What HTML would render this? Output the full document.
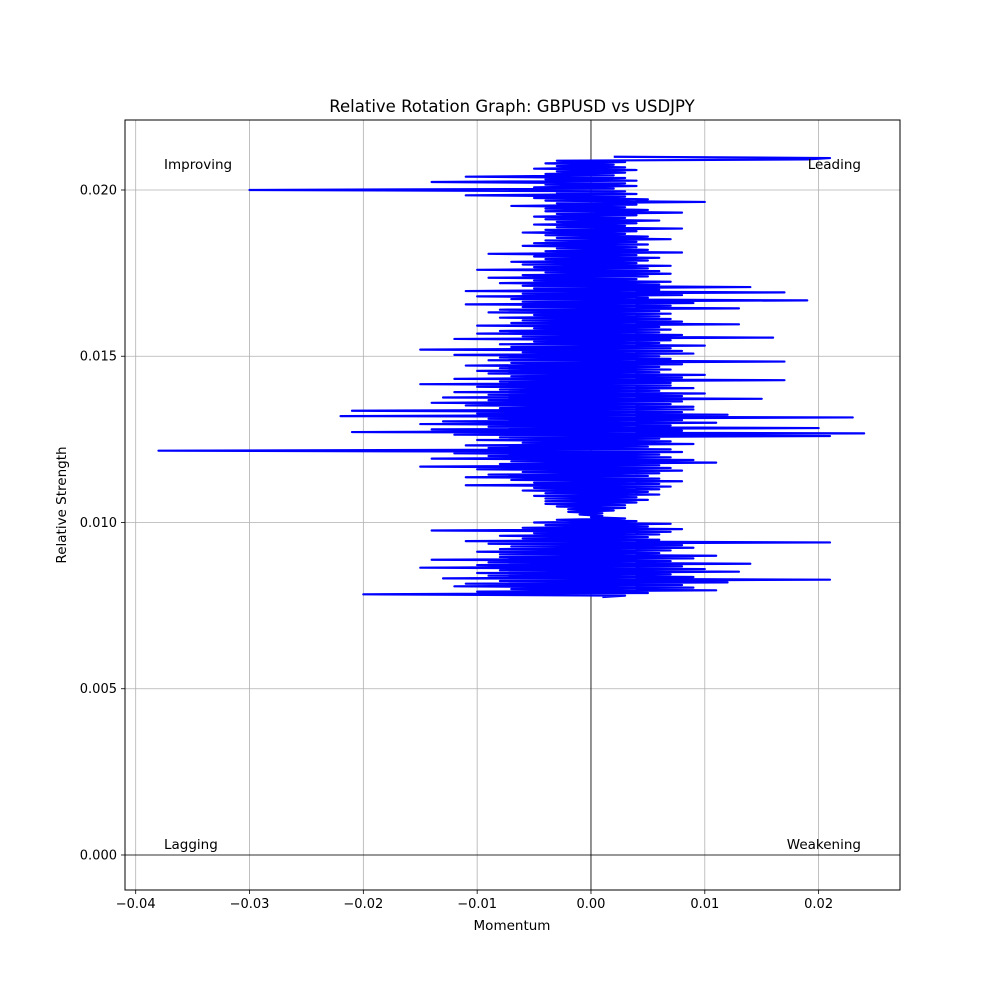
<!DOCTYPE html>
<html><head><meta charset="utf-8"><style>
body{margin:0;background:#fff}
svg{font-family:"DejaVu Sans","Liberation Sans",sans-serif}
</style></head><body>
<svg id="chart" width="1000" height="1000" viewBox="0 0 1000 1000">
<rect width="1000" height="1000" fill="#fff"/>
<g id="grid"></g>
<g id="series"></g>
<rect x="125" y="120" width="775" height="770" fill="none" stroke="#000" stroke-width="1"/>
<g id="ticks"></g>
<text x="512" y="112" font-size="16.5" text-anchor="middle">Relative Rotation Graph: GBPUSD vs USDJPY</text>
<text x="512" y="930" font-size="13.5" text-anchor="middle">Momentum</text>
<text x="66" y="505" font-size="13.5" text-anchor="middle" transform="rotate(-90 66 505)">Relative Strength</text>
<text x="164" y="169" font-size="13.5">Improving</text>
<text x="861" y="169" font-size="13.5" text-anchor="end">Leading</text>
<text x="164" y="849" font-size="13.5">Lagging</text>
<text x="861" y="849" font-size="13.5" text-anchor="end">Weakening</text>
</svg>
<script>
const xTicks=[-0.04,-0.03,-0.02,-0.01,0.0,0.01,0.02];
const xTickLabels=["−0.04","−0.03","−0.02","−0.01","0.00","0.01","0.02"];
const yTicks=[0.0,0.005,0.01,0.015,0.02];
const yTickLabels=["0.000","0.005","0.010","0.015","0.020"];
const momentum=[
0.002,0.021,0.019,-0.003,0.003,-0.004,0.002,-0.003,0.003,-0.005,0.004,-0.003,0.003,-0.004,0.002,-0.011,0.003,-0.004,0.004,-0.014,
0.003,-0.004,0.004,-0.005,0.002,-0.030,0.003,-0.003,0.004,-0.011,0.003,-0.005,0.005,-0.004,0.010,-0.003,0.004,-0.007,0.003,-0.004,
0.005,-0.004,0.008,-0.003,0.004,-0.005,0.003,-0.004,0.006,-0.003,0.004,-0.005,0.003,-0.003,0.008,-0.004,0.004,-0.006,0.003,-0.004,
0.005,-0.003,0.007,-0.004,0.004,-0.005,0.005,-0.006,0.004,-0.003,0.005,-0.004,0.008,-0.009,0.004,-0.005,0.006,-0.004,0.005,-0.007,
0.004,-0.006,0.007,-0.005,0.005,-0.010,0.006,-0.004,0.007,-0.006,0.005,-0.009,0.004,-0.005,0.007,-0.008,0.006,-0.006,0.014,-0.005,
0.006,-0.011,0.017,-0.006,0.008,-0.010,0.005,-0.007,0.019,-0.006,0.009,-0.011,0.007,-0.006,0.013,-0.008,0.006,-0.009,0.007,-0.005,
0.006,-0.008,0.007,-0.006,0.008,-0.007,0.013,-0.010,0.006,-0.005,0.007,-0.008,0.006,-0.010,0.008,-0.006,0.016,-0.012,0.007,-0.005,
0.006,-0.008,0.010,-0.007,0.007,-0.015,0.008,-0.006,0.009,-0.012,0.006,-0.008,0.007,-0.009,0.017,-0.007,0.008,-0.011,0.006,-0.008,
0.007,-0.010,0.006,-0.009,0.010,-0.007,0.008,-0.012,0.017,-0.008,0.007,-0.015,0.007,-0.010,0.009,-0.008,0.006,-0.012,0.010,-0.009,
0.008,-0.013,0.015,-0.009,0.008,-0.014,0.007,-0.011,0.009,-0.008,0.009,-0.021,0.008,-0.010,0.012,-0.022,0.023,-0.009,0.008,-0.013,
0.011,-0.015,0.007,-0.009,0.020,-0.014,0.008,-0.021,0.024,-0.012,0.021,-0.008,0.006,-0.010,0.007,-0.006,0.009,-0.011,0.005,-0.009,
0.007,-0.038,0.008,-0.012,0.006,-0.009,0.007,-0.014,0.009,-0.007,0.011,-0.008,0.006,-0.015,0.007,-0.010,0.008,-0.006,0.006,-0.009,
0.005,-0.011,0.006,-0.007,0.008,-0.005,0.006,-0.011,0.007,-0.005,0.006,-0.006,0.005,-0.004,0.006,-0.005,0.004,-0.004,0.005,-0.004,
0.004,-0.004,0.003,-0.003,0.003,-0.002,0.002,-0.002,0.001,-0.001,0.001,0.000,0.003,-0.003,0.004,-0.005,0.007,-0.004,0.005,-0.006,
0.008,-0.014,0.007,-0.005,0.006,-0.008,0.005,-0.006,0.006,-0.011,0.021,-0.009,0.008,-0.007,0.009,-0.008,0.007,-0.010,0.006,-0.008,
0.011,-0.008,0.009,-0.014,0.007,-0.009,0.014,-0.010,0.008,-0.015,0.010,-0.008,0.013,-0.010,0.007,-0.009,0.009,-0.013,0.021,-0.008,
0.012,-0.011,0.008,-0.012,0.009,-0.007,0.011,-0.010,0.005,-0.020,0.003,0.001];
const strength=[
0.02100,0.02096,0.02092,0.02088,0.02084,0.02080,0.02076,0.02072,0.02068,0.02064,0.02060,0.02056,0.02052,0.02048,0.02044,0.02040,0.02036,0.02032,0.02028,0.02024,
0.02020,0.02016,0.02012,0.02008,0.02004,0.02000,0.01996,0.01992,0.01988,0.01984,0.01980,0.01976,0.01972,0.01968,0.01964,0.01960,0.01956,0.01952,0.01948,0.01944,
0.01940,0.01936,0.01932,0.01928,0.01924,0.01920,0.01916,0.01912,0.01908,0.01904,0.01900,0.01896,0.01892,0.01888,0.01884,0.01880,0.01876,0.01872,0.01868,0.01864,
0.01860,0.01856,0.01852,0.01848,0.01844,0.01840,0.01836,0.01832,0.01828,0.01824,0.01820,0.01816,0.01812,0.01808,0.01804,0.01800,0.01796,0.01792,0.01788,0.01784,
0.01780,0.01776,0.01772,0.01768,0.01764,0.01760,0.01756,0.01752,0.01748,0.01744,0.01740,0.01736,0.01732,0.01728,0.01724,0.01720,0.01716,0.01712,0.01708,0.01704,
0.01700,0.01696,0.01692,0.01688,0.01684,0.01680,0.01676,0.01672,0.01668,0.01664,0.01660,0.01656,0.01652,0.01648,0.01644,0.01640,0.01636,0.01632,0.01628,0.01624,
0.01620,0.01616,0.01612,0.01608,0.01604,0.01600,0.01596,0.01592,0.01588,0.01584,0.01580,0.01576,0.01572,0.01568,0.01564,0.01560,0.01556,0.01552,0.01548,0.01544,
0.01540,0.01536,0.01532,0.01528,0.01524,0.01520,0.01516,0.01512,0.01508,0.01504,0.01500,0.01496,0.01492,0.01488,0.01484,0.01480,0.01476,0.01472,0.01468,0.01464,
0.01460,0.01456,0.01452,0.01448,0.01444,0.01440,0.01436,0.01432,0.01428,0.01424,0.01420,0.01416,0.01412,0.01408,0.01404,0.01400,0.01396,0.01392,0.01388,0.01384,
0.01380,0.01376,0.01372,0.01368,0.01364,0.01360,0.01356,0.01352,0.01348,0.01344,0.01340,0.01336,0.01332,0.01328,0.01324,0.01320,0.01316,0.01312,0.01308,0.01304,
0.01300,0.01296,0.01292,0.01288,0.01284,0.01280,0.01276,0.01272,0.01268,0.01264,0.01260,0.01256,0.01252,0.01248,0.01244,0.01240,0.01236,0.01232,0.01228,0.01224,
0.01220,0.01216,0.01212,0.01208,0.01204,0.01200,0.01196,0.01192,0.01188,0.01184,0.01180,0.01176,0.01172,0.01168,0.01164,0.01160,0.01156,0.01152,0.01148,0.01144,
0.01140,0.01136,0.01132,0.01128,0.01124,0.01120,0.01116,0.01112,0.01108,0.01104,0.01100,0.01096,0.01092,0.01088,0.01084,0.01080,0.01076,0.01072,0.01068,0.01064,
0.01060,0.01056,0.01052,0.01048,0.01044,0.01040,0.01036,0.01032,0.01028,0.01024,0.01020,0.01016,0.01012,0.01008,0.01004,0.01000,0.00996,0.00992,0.00988,0.00984,
0.00980,0.00976,0.00972,0.00968,0.00964,0.00960,0.00956,0.00952,0.00948,0.00944,0.00940,0.00936,0.00932,0.00928,0.00924,0.00920,0.00916,0.00912,0.00908,0.00904,
0.00900,0.00896,0.00892,0.00888,0.00884,0.00880,0.00876,0.00872,0.00868,0.00864,0.00860,0.00856,0.00852,0.00848,0.00844,0.00840,0.00836,0.00832,0.00828,0.00824,
0.00820,0.00816,0.00812,0.00808,0.00804,0.00800,0.00796,0.00792,0.00788,0.00784,0.00780,0.00776];

const NS="http://www.w3.org/2000/svg";
const X0=125,X1=900,Y0=120,Y1=890;
const xMin=-0.04094,xMax=0.02715,yMin=-0.001053,yMax=0.022105;
function sx(v){return X0+(v-xMin)/(xMax-xMin)*(X1-X0);}
function sy(v){return Y1-(v-yMin)/(yMax-yMin)*(Y1-Y0);}
function mk(tag,attrs,parent){const e=document.createElementNS(NS,tag);for(const k in attrs)e.setAttribute(k,attrs[k]);parent.appendChild(e);return e;}
const grid=document.getElementById('grid'),ticks=document.getElementById('ticks'),series=document.getElementById('series');
xTicks.forEach((t,i)=>{
  const x=sx(t);
  const g=mk('line',{x1:x,x2:x,y1:Y0,y2:Y1,stroke:'#b0b0b0','stroke-width':0.8},grid);
  
  
  const tk=mk('line',{x1:x,x2:x,y1:Y1,y2:Y1+4,stroke:'#000','stroke-width':0.8},ticks);
  
  
  const lb=mk('text',{x:x,y:Y1+18,'font-size':13,'text-anchor':'middle'},ticks);
  lb.textContent=xTickLabels[i];
  
  
});
yTicks.forEach((t,i)=>{
  const y=sy(t);
  const g=mk('line',{x1:X0,x2:X1,y1:y,y2:y,stroke:'#b0b0b0','stroke-width':0.8},grid);
  
  
  const tk=mk('line',{x1:X0-4,x2:X0,y1:y,y2:y,stroke:'#000','stroke-width':0.8},ticks);
  
  
  const lb=mk('text',{x:X0-8,y:y+4.5,'font-size':13,'text-anchor':'end'},ticks);
  lb.textContent=yTickLabels[i];
  
  
});
const zx=mk('line',{x1:sx(0),x2:sx(0),y1:Y0,y2:Y1,stroke:'#000','stroke-width':0.8},grid);


const zy=mk('line',{x1:X0,x2:X1,y1:sy(0),y2:sy(0),stroke:'#000','stroke-width':0.8},grid);


let d='';
const n=Math.min(momentum.length,strength.length);
for(let i=0;i<n;i++){d+=(i?'L':'M')+sx(momentum[i]).toFixed(2)+','+sy(strength[i]).toFixed(2);}
const p=mk('path',{d:d,fill:'none',stroke:'#0000ff','stroke-width':2.2,'stroke-linejoin':'round'},series);


</script>
</body></html>
